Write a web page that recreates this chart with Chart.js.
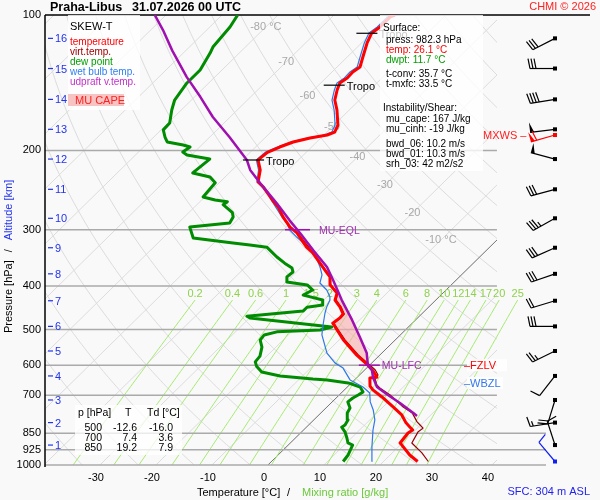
<!DOCTYPE html>
<html>
<head>
<meta charset="utf-8">
<title>Praha-Libus skew-T</title>
<script src="https://cdn.jsdelivr.net/npm/chart.js@4.4.1/dist/chart.umd.min.js"></script>
<style>
  html, body { margin: 0; padding: 0; background: #f9f9f9; }
  canvas { display: block; }
</style>
</head>
<body>
<canvas id="skewt" width="600" height="500"></canvas>
<script>
// sounding Praha-Libus 31.07.2026 00 UTC
const tempP = [982.3, 950, 903, 893.5, 871, 849, 836, 824, 806, 774, 743, 706, 681, 668, 641, 638, 618, 600, 570, 527, 501, 484, 471, 462, 446, 430, 415, 398, 382, 374, 356, 338, 328, 305, 296, 281, 267, 258, 241, 235, 221, 210, 207, 202, 196.5, 191.5, 187.7, 184.8, 182, 175.6, 162.6, 154.5, 146.8, 141.6, 138, 133.8, 130.5, 124, 115.4, 109.6, 106.3, 101, 100];
const tempT = [26.1, 23.5, 20.3, 19.6, 19.4, 19.2, 19.5, 18.5, 17.0, 14.8, 11.8, 8.0, 5.1, 3.9, 2.4, 3.5, 1.7, -0.3, -4.1, -9.3, -12.2, -14.2, -13.9, -14.0, -15.8, -18.0, -18.9, -21.6, -23.1, -24.4, -27.4, -30.5, -32.7, -37.0, -39.3, -42.4, -45.1, -47.3, -51.4, -53.2, -55.0, -57.2, -57.1, -56.9, -55.7, -54.2, -51.9, -49.4, -48.6, -49.3, -52.2, -54.4, -55.8, -56.6, -56.2, -56.3, -55.9, -57.2, -59.0, -60.0, -59.6, -59.6, -59.1];

const virtP = [982.3, 940, 893.5, 866, 845, 828, 815, 802, 766, 743, 699, 674.5, 664, 641, 631, 615, 600, 570, 527, 501, 484, 471, 462, 446, 430, 415, 398, 382, 356, 338, 305];
const virtT = [28.0, 25.3, 21.7, 21.2, 20.8, 21.0, 19.9, 18.8, 16.3, 13.6, 9.1, 6.0, 4.9, 3.3, 3.3, 1.9, 0.1, -3.8, -9.0, -12.0, -14.0, -13.7, -13.8, -15.6, -17.8, -18.8, -21.5, -23.0, -27.3, -30.4, -36.9];

const dewP = [982.3, 950, 903, 893.5, 871, 845, 824, 815, 794, 766, 747, 724, 710, 699, 688, 671, 657, 647, 644, 634, 621.5, 603, 590, 573, 547, 527.5, 514, 506, 501, 493.5, 471.5, 467, 455, 446, 441, 430, 423, 419, 408.5, 398, 392, 382, 372.5, 365, 356, 345, 328, 324.5, 321, 313, 296, 290, 281, 275, 264, 260, 257.6, 253.7, 236, 229, 224.4, 209, 204.7, 201.6, 196.5, 194.5, 191.5, 186.7, 180, 173.8, 162.6, 154.5, 141.6, 132.5, 121.5, 117.8, 106.3, 100];
const dewT = [12.8, 12.5, 11.5, 10.3, 9.2, 7.8, 6.3, 6.5, 6.1, 4.7, 4.3, 2.8, 3.0, 3.4, 3.7, 2.3, -0.6, -4.9, -7.6, -14.0, -18.0, -20.0, -21.0, -21.2, -22.5, -24.1, -24.3, -22.6, -15.2, -13.7, -29.9, -30.8, -21.7, -21.7, -19.3, -20.2, -23.0, -24.6, -23.8, -25.7, -29.9, -30.8, -30.6, -31.5, -33.7, -36.2, -39.8, -43.2, -46.6, -54.6, -57.2, -50.8, -51.3, -52.2, -55.3, -55.1, -57.6, -60.3, -60.7, -62.7, -66.5, -66.0, -70.8, -72.1, -71.7, -73.3, -76.7, -78.0, -79.6, -79.7, -81.7, -83.0, -83.9, -83.9, -85.2, -85.8, -86.4, -87.2];

const wetP = [982.3, 912, 836, 794, 754.5, 724, 692, 671, 647, 609, 593, 564, 514, 493.5, 460, 446, 430, 423, 408.5, 394, 378, 363, 350, 333, 321, 311.5, 300.5, 290, 281, 257.6, 242.4, 235, 221, 210, 201.6, 196.5, 191.5, 187.7, 184.8, 182, 175.6, 162.6, 154.5, 146.8, 141.6, 138, 133.8, 130.5, 124, 115.4, 109.6, 106.3, 101, 100];
const wetT = [17.9, 15.3, 12.4, 10.9, 8.8, 6.8, 5.1, 2.8, -0.8, -4.2, -6.6, -9.8, -14.0, -15.3, -17.4, -18.2, -18.9, -19.5, -21.3, -23.8, -24.9, -26.7, -28.5, -31.6, -34.1, -36.3, -38.8, -40.6, -42.6, -47.6, -50.9, -53.4, -55.3, -57.5, -57.3, -56.1, -54.6, -52.4, -49.9, -49.1, -49.8, -52.7, -54.9, -56.3, -57.1, -56.7, -56.8, -56.4, -57.7, -59.5, -60.5, -60.1, -60.1, -59.6];

// most unstable parcel (virtual temperature)
const parcelP = [778, 766, 728, 699, 671, 638, 615, 600, 564, 520, 476, 430, 388, 363, 333, 305, 286, 262, 241, 221, 210, 187, 168.5, 152, 137.4, 120, 108, 100];
const parcelT = [17.7, 16.5, 12.3, 8.7, 5.3, 2.8, 1.3, -0.3, -2.7, -6.8, -11.35, -16.8, -22.0, -25.45, -31.0, -36.45, -40.6, -46.0, -51.4, -56.8, -59.2, -66.4, -73.1, -79.0, -85.0, -92.4, -97.8, -102.0];

// MU CAPE area: parcel upward, environment back down
const capeP = [600, 564, 520, 476, 430, 405, 398, 415, 430, 446, 462, 471, 484, 501, 527, 570, 600];
const capeT = [-0.3, -2.7, -6.8, -11.35, -16.8, -20.5, -21.5, -18.8, -17.8, -15.6, -13.8, -13.7, -14.0, -12.0, -9.0, -3.8, -0.3];

const pressureLevels = [100, 200, 300, 400, 500, 600, 700, 850, 925, 1000];
const tempTicks = [-30, -20, -10, 0, 10, 20, 30, 40];
const mixRatios = [0.2, 0.4, 0.6, 1, 1.5, 2, 3, 4, 6, 8, 10, 12, 14, 17, 20, 25];
const isoLabelT = [-80, -70, -60, -50, -40, -30, -20, -10];
const isoLabelP = [106.3, 127.2, 151.4, 177.4, 206.8, 238.6, 275.4, 316.2];

const altKm = [1, 2, 3, 4, 5, 6, 7, 8, 9, 10, 11, 12, 13, 14, 15, 16];
const altP = [903, 805, 717, 634, 558, 492, 431.5, 376, 329, 283, 244, 209, 179.5, 154, 131.5, 112.7];

// winds (first = 10 m surface wind, then every km)
const windP = [982.3, 903, 805, 717, 634, 558, 492, 431.5, 376, 329, 283, 244, 209, 179.5, 154, 131.5, 112.7];
const windDir = [320, 342, 261, 197, 218, 244, 270, 253, 251, 246, 241, 255, 285, 263, 261, 270, 243];
const windSpd = [10, 10, 15, 20, 10, 25, 30, 20, 30, 30, 35, 30, 50, 50, 40, 30, 30];
const mxwsP = 184.8, mxwsDir = 254, mxwsSpd = 60;

const tropoP = [210, 143.2, 109.8];
const tropoT = [-57.2, -56.4, -60.0];

const tableP = [500, 700, 850];
const tableT = ['-12.6', '7.4', '19.2'];
const tableTd = ['-16.0', '3.6', '7.9'];

const SKEW = 81.8, P0 = 1020;          // skew of the isotherms
const X_MIN = -39.1, X_MAX = 50.36, GRID_RIGHT = 41.6;
const FONT = "'Liberation Sans', Arial, sans-serif";

function skewX(t, p) { return t + SKEW * Math.log10(P0 / p); }
function toPoints(ps, ts) { return ps.map((p, i) => ({ x: skewX(ts[i], p), y: p })); }
function mixT(w, p) {
  const e = w * p / (622 + w), l = Math.log(e / 6.112);
  return 243.5 * l / (17.67 - l);
}

function drawBarb(ctx, x0, y0, dir, spd, color) {
  const r = dir * Math.PI / 180;
  const ux = Math.sin(r), uy = -Math.cos(r);
  const nx = -uy, ny = ux;
  const tx = x0 + ux * 25, ty = y0 + uy * 25;
  ctx.strokeStyle = color; ctx.fillStyle = color; ctx.lineWidth = 1.2;
  ctx.beginPath(); ctx.moveTo(x0, y0); ctx.lineTo(tx, ty); ctx.stroke();
  ctx.fillRect(x0 - 2, y0 - 2, 4, 4);
  let s = spd, pos = 0;
  while (s >= 50) {
    const bx = tx - ux * pos, by = ty - uy * pos;
    ctx.beginPath();
    ctx.moveTo(bx, by);
    ctx.lineTo(bx + nx * 10, by + ny * 10);
    ctx.lineTo(bx - ux * 4, by - uy * 4);
    ctx.closePath(); ctx.fill();
    pos += 6; s -= 50;
  }
  while (s >= 10) {
    const bx = tx - ux * pos, by = ty - uy * pos;
    ctx.beginPath(); ctx.moveTo(bx, by);
    ctx.lineTo(bx + nx * 10 + ux * 2, by + ny * 10 + uy * 2); ctx.stroke();
    pos += 3; s -= 10;
  }
  if (s >= 5) {
    if (pos === 0) pos = 3;
    const bx = tx - ux * pos, by = ty - uy * pos;
    ctx.beginPath(); ctx.moveTo(bx, by);
    ctx.lineTo(bx + nx * 5 + ux, by + ny * 5 + uy); ctx.stroke();
  }
}

const skewtPlugin = {
  id: 'skewt',
  beforeDraw(chart) {
    const ctx = chart.ctx;
    ctx.save();
    ctx.fillStyle = '#f9f9f9';
    ctx.fillRect(0, 0, chart.width, chart.height);
    ctx.restore();
  },
  beforeDatasetsDraw(chart) {
    const { ctx, chartArea: a } = chart;
    const xs = chart.scales.x, ys = chart.scales.y;
    const px = (t, p) => xs.getPixelForValue(skewX(t, p));
    const py = p => ys.getPixelForValue(p);
    const gridRight = xs.getPixelForValue(GRID_RIGHT);

    ctx.save();
    ctx.beginPath();
    ctx.rect(a.left, a.top, gridRight - a.left, a.bottom - a.top);
    ctx.clip();
    ctx.lineWidth = 1;
    ctx.strokeStyle = '#dcdcdc';
    for (let t = -130; t <= 50; t += 10) {
      ctx.beginPath();
      ctx.moveTo(px(t, 1000), py(1000));
      ctx.lineTo(px(t, 100), py(100));
      ctx.stroke();
    }
    for (let th = 230; th <= 470; th += 10) {
      ctx.beginPath();
      for (let p = 1000; p >= 100; p -= 10) {
        const t = th * Math.pow(p / 1000, 0.2857) - 273.15;
        if (p === 1000) ctx.moveTo(px(t, p), py(p)); else ctx.lineTo(px(t, p), py(p));
      }
      ctx.stroke();
    }
    ctx.strokeStyle = '#777';
    ctx.beginPath();
    ctx.moveTo(px(0, 1000), py(1000));
    ctx.lineTo(px(0, 100), py(100));
    ctx.stroke();
    ctx.restore();

    // mixing ratio lines
    ctx.save();
    ctx.beginPath();
    ctx.rect(a.left, a.top, a.right - a.left, a.bottom - a.top);
    ctx.clip();
    ctx.strokeStyle = '#a6ea72';
    ctx.lineWidth = 1;
    mixRatios.forEach(w => {
      ctx.beginPath();
      for (let p = 1000; p >= 430; p -= 10) {
        const t = mixT(w, p);
        if (p === 1000) ctx.moveTo(px(t, p), py(p)); else ctx.lineTo(px(t, p), py(p));
      }
      ctx.stroke();
    });
    ctx.restore();
    ctx.save();
    ctx.font = '11px ' + FONT;
    ctx.fillStyle = '#8fd24c';
    ctx.textAlign = 'center';
    ctx.textBaseline = 'middle';
    mixRatios.forEach(w => ctx.fillText(String(w), px(mixT(w, 430), 430), py(430) - 6));

    // isotherm labels
    ctx.fillStyle = '#a8a8a8';
    isoLabelT.forEach((t, i) => {
      const txt = (t === -80 || t === -10) ? t + ' °C' : String(t);
      ctx.fillText(txt, px(t, isoLabelP[i]), py(isoLabelP[i]));
    });

    // pressure lines
    pressureLevels.forEach(p => {
      ctx.beginPath();
      ctx.lineWidth = 1.5;
      ctx.strokeStyle = p === 100 ? '#000' : '#aaaaaa';
      const right = p === 100 ? 590 : (p >= 850 ? a.right : gridRight);
      ctx.moveTo(a.left, py(p));
      ctx.lineTo(right, py(p));
      ctx.stroke();
    });
    ctx.restore();
  },
  afterDatasetsDraw(chart) {
    const { ctx, chartArea: a } = chart;
    const xs = chart.scales.x, ys = chart.scales.y;
    const px = (t, p) => xs.getPixelForValue(skewX(t, p));
    const py = p => ys.getPixelForValue(p);
    ctx.save();
    ctx.textBaseline = 'middle';

    // left axis
    ctx.strokeStyle = '#000';
    ctx.lineWidth = 1.5;
    ctx.beginPath();
    ctx.moveTo(a.left, a.top);
    ctx.lineTo(a.left, a.bottom + 2);
    ctx.stroke();
    ctx.font = '11px ' + FONT;
    ctx.fillStyle = '#000';
    ctx.textAlign = 'right';
    pressureLevels.forEach(p => ctx.fillText(String(p), a.left - 4, py(p)));
    ctx.textAlign = 'center';
    tempTicks.forEach(t => ctx.fillText(String(t), xs.getPixelForValue(t), a.bottom + 13));

    // altitude ticks
    ctx.strokeStyle = '#2233ee';
    ctx.fillStyle = '#2233ee';
    ctx.lineWidth = 1.2;
    ctx.textAlign = 'left';
    altKm.forEach((k, i) => {
      const y = py(altP[i]);
      ctx.beginPath(); ctx.moveTo(a.left + 3, y); ctx.lineTo(a.left + 8, y); ctx.stroke();
      ctx.fillText(String(k), a.left + 10, y + 1);
    });

    // tropopause marks
    ctx.strokeStyle = '#000';
    ctx.fillStyle = '#000';
    ctx.lineWidth = 1.2;
    tropoP.forEach((p, i) => {
      const x = px(tropoT[i], p), y = py(p);
      ctx.beginPath(); ctx.moveTo(x - 15, y); ctx.lineTo(x + 6, y); ctx.stroke();
      ctx.fillText('Tropo', x + 8, y + 2);
    });

    // parcel levels
    ctx.strokeStyle = '#a010b0';
    ctx.fillStyle = '#a030b0';
    ctx.lineWidth = 1.5;
    ctx.font = '10.5px ' + FONT;
    const eqlX = px(-37.4, 300), lfcX = px(-0.3, 600);
    ctx.beginPath(); ctx.moveTo(eqlX - 13, py(300)); ctx.lineTo(eqlX + 12, py(300)); ctx.stroke();
    ctx.fillText('MU-EQL', eqlX + 21, py(300) + 1);
    ctx.beginPath(); ctx.moveTo(lfcX - 9, py(600)); ctx.lineTo(lfcX + 12, py(600)); ctx.stroke();
    ctx.fillText('MU-LFC', lfcX + 14, py(600) + 1);

    // freezing / wet bulb zero levels
    ctx.font = '11px ' + FONT;
    ctx.fillStyle = 'rgba(255,255,255,0.85)';
    ctx.fillRect(467, py(600) - 6, 40, 12);
    ctx.fillRect(467, py(657) - 6, 36, 12);
    ctx.fillStyle = '#ff0000';
    ctx.fillText('–FZLV', 464, py(600) + 1);
    ctx.fillStyle = '#3377ee';
    ctx.fillText('–WBZL', 464, py(657) + 1);
    ctx.fillStyle = '#ff2020';
    ctx.fillText('MXWS –', 483, py(mxwsP) + 1);

    // legend box
    ctx.fillStyle = 'rgba(255,255,255,0.8)';
    ctx.fillRect(68, 15, 72, 95);
    ctx.font = '11px ' + FONT;
    ctx.fillStyle = '#000';
    ctx.fillText('SKEW-T', 70, 27);
    ctx.font = '10px ' + FONT;
    [['temperature', '#ff0000', 42], ['virt.temp.', '#a00000', 52], ['dew point', '#00a000', 62],
     ['wet bulb temp.', '#2f7ff0', 72], ['udpraft v.temp.', '#c030c8', 82]].forEach(r => {
      ctx.fillStyle = r[1]; ctx.fillText(r[0], 70, r[2]);
    });
    ctx.fillStyle = '#f7c4c4';
    ctx.fillRect(68, 94, 56, 12);
    ctx.fillStyle = '#ff2020';
    ctx.font = '11px ' + FONT;
    ctx.fillText('MU CAPE', 75, 101);

    // info box
    ctx.fillStyle = 'rgba(255,255,255,0.78)';
    ctx.fillRect(380, 15, 103, 156);
    ctx.font = '10px ' + FONT;
    [['Surface:', '#000', 383, 28], ['press: 982.3 hPa', '#000', 386, 40], ['temp: 26.1 °C', '#ff0000', 386, 50],
     ['dwpt: 11.7 °C', '#00a000', 386, 60], ['t-conv: 35.7 °C', '#000', 386, 74], ['t-mxfc: 33.5 °C', '#000', 386, 84],
     ['Instability/Shear:', '#000', 383, 108], ['mu_cape: 167 J/kg', '#000', 386, 119], ['mu_cinh: -19 J/kg', '#000', 386, 129],
     ['bwd_06: 10.2 m/s', '#000', 386, 144], ['bwd_01: 10.3 m/s', '#000', 386, 154], ['srh_03: 42 m2/s2', '#000', 386, 164]
    ].forEach(r => { ctx.fillStyle = r[1]; ctx.fillText(r[0], r[2], r[3]); });

    // table box
    ctx.fillStyle = 'rgba(255,255,255,0.75)';
    ctx.fillRect(75, 405, 107, 50);
    ctx.fillStyle = '#000';
    ctx.font = '10.5px ' + FONT;
    ctx.fillText('p [hPa]', 78, 413);
    ctx.fillText('T', 125, 413);
    ctx.fillText('Td [°C]', 147, 413);
    ctx.textAlign = 'right';
    tableP.forEach((p, i) => {
      const y = 428 + i * 10.3;
      ctx.fillText(String(p), 102, y);
      ctx.fillText(tableT[i], 137, y);
      ctx.fillText(tableTd[i], 173, y);
    });

    // wind barbs
    windP.forEach((p, i) => drawBarb(ctx, 555, py(p), windDir[i], windSpd[i], i === 0 ? '#1020f0' : '#000'));
    drawBarb(ctx, 555, py(mxwsP), mxwsDir, mxwsSpd, '#ff0000');

    // titles
    ctx.textAlign = 'left';
    ctx.fillStyle = '#000';
    ctx.font = 'bold 12.5px ' + FONT;
    ctx.fillText('Praha-Libus', 50, 8);
    ctx.fillText('31.07.2026 00 UTC', 132, 8);
    ctx.font = '11px ' + FONT;
    ctx.fillStyle = '#ff2020';
    ctx.textAlign = 'right';
    ctx.fillText('CHMI © 2026', 596, 7);
    ctx.fillStyle = '#2222ee';
    ctx.fillText('SFC: 304 m ASL', 590, 492);
    ctx.textAlign = 'left';
    ctx.fillStyle = '#000';
    ctx.fillText('Temperature [°C]', 197, 493);
    ctx.fillText('/', 287, 493);
    ctx.fillStyle = '#6cc83a';
    ctx.fillText('Mixing ratio [g/kg]', 302, 493);

    // vertical axis title
    ctx.translate(9, 333);
    ctx.rotate(-Math.PI / 2);
    ctx.fillStyle = '#000';
    ctx.fillText('Pressure [hPa]', 0, 0);
    let w = ctx.measureText('Pressure [hPa]').width;
    ctx.fillText('/', w + 8, 0);
    ctx.fillStyle = '#2233ee';
    ctx.fillText('Altitude [km]', w + 20, 0);
    ctx.restore();
  }
};

const line = (label, ps, ts, color, width, order) => ({
  label: label, data: toPoints(ps, ts), borderColor: color, borderWidth: width,
  pointRadius: 0, fill: false, tension: 0, order: order, borderJoinStyle: 'round'
});

new Chart(document.getElementById('skewt'), {
  type: 'line',
  data: {
    datasets: [
      { label: 'MU CAPE', data: toPoints(capeP, capeT), borderColor: 'rgba(0,0,0,0)', borderWidth: 0,
        backgroundColor: 'rgba(246,170,170,0.6)', fill: 'shape', pointRadius: 0, order: 9 },
      line('dew point', dewP, dewT, '#008c00', 3, 6),
      line('wet bulb temp.', wetP, wetT, '#2f78e8', 1.2, 5),
      line('virt.temp.', virtP, virtT, '#990000', 1.2, 4),
      line('temperature', tempP, tempT, '#ff0000', 3, 2),
      line('udpraft v.temp.', parcelP, parcelT, '#a010b0', 2.5, 1)
    ]
  },
  options: {
    responsive: false,
    animation: false,
    events: [],
    layout: { autoPadding: false, padding: { left: 45, right: 54, top: 15, bottom: 35 } },
    scales: {
      x: { type: 'linear', display: false, min: X_MIN, max: X_MAX },
      y: { type: 'logarithmic', display: false, min: 100, max: 1000, reverse: true }
    },
    plugins: { legend: { display: false }, tooltip: { enabled: false } }
  },
  plugins: [skewtPlugin]
});
</script>
</body>
</html>
